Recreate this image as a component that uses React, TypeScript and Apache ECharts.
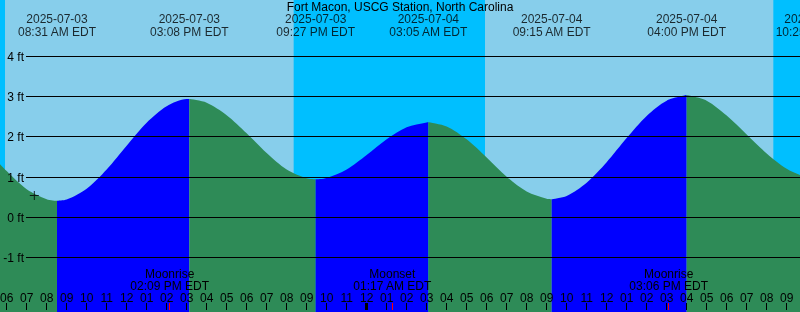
import React, { useEffect, useRef } from 'react';
import * as echarts from 'echarts';

const TITLE = 'Fort Macon, USCG Station, North Carolina';
const FONT = '"Liberation Sans", Arial, sans-serif';

// x values are hours since 2025-07-03 00:00 EDT
const X_MIN = 5 + 2 / 3;
const X_MAX = 45 + 2 / 3;
const Y_MIN = -2.356;
const Y_MAX = 5.406;

// hourly predicted water level (ft)
const tideHours = [5, 6, 7, 8, 9, 10, 11, 12, 13, 14, 15, 16, 17, 18, 19, 20, 21, 22, 23, 24, 25, 26, 27, 28, 29, 30, 31, 32, 33, 34, 35, 36, 37, 38, 39, 41, 42, 43, 44, 45, 46];
const tideFeet = [1.68, 1.15, 0.70, 0.45, 0.44, 0.71, 1.19, 1.78, 2.35, 2.76, 2.94, 2.85, 2.54, 2.09, 1.60, 1.19, 0.97, 0.98, 1.19, 1.55, 1.94, 2.24, 2.36, 2.26, 1.94, 1.49, 1.01, 0.64, 0.46, 0.53, 0.86, 1.37, 1.97, 2.52, 2.90, 2.90, 2.53, 2.06, 1.59, 1.21, 0.99];

// high / low tides
const extremeHours = [8.517, 15.133, 21.45, 27.083, 33.25, 40.0, 46.417];
const extremeFeet = [0.41, 2.94, 0.945, 2.365, 0.45, 3.04, 0.94];
const extremeDates = ['2025-07-03', '2025-07-03', '2025-07-03', '2025-07-04', '2025-07-04', '2025-07-04', '2025-07-04'];
const extremeTimes = ['08:31 AM EDT', '03:08 PM EDT', '09:27 PM EDT', '03:05 AM EDT', '09:15 AM EDT', '04:00 PM EDT', '10:25 PM EDT'];

// hour ticks
const hourTicks = [6, 7, 8, 9, 10, 11, 12, 13, 14, 15, 16, 17, 18, 19, 20, 21, 22, 23, 24, 25, 26, 27, 28, 29, 30, 31, 32, 33, 34, 35, 36, 37, 38, 39, 40, 41, 42, 43, 44, 45];
const midnightTicks = [24];

// moon events
const moonHours = [14.15, 25.283, 39.1];
const moonEvents = ['Moonrise', 'Moonset', 'Moonrise'];
const moonTimes = ['02:09 PM EDT', '01:17 AM EDT', '03:06 PM EDT'];

// night (sunset -> sunrise)
const nightStart = [0, 20.35, 44.333];
const nightEnd = [5.917, 29.917, 48];

const feetLevels = [-1, 0, 1, 2, 3, 4];

const nowHour = [7.383];
const nowFeet = [0.54];

function buildOption() {
  const points = tideHours
    .map((t, i) => [t, tideFeet[i]])
    .concat(extremeHours.map((t, i) => [t, extremeFeet[i]]))
    .sort((a, b) => a[0] - b[0]);
  const bounds = [points[0][0], ...extremeHours];
  const segSeries: any[] = [];
  for (let i = 0; i < bounds.length - 1; i++) {
    const seg = points.filter((p) => p[0] >= bounds[i] && p[0] <= bounds[i + 1]);
    if (seg.length < 2) continue;
    const rising = seg[seg.length - 1][1] > seg[0][1];
    segSeries.push({
      type: 'line',
      xAxisIndex: 0,
      yAxisIndex: 0,
      data: seg,
      smooth: 0.3,
      showSymbol: false,
      symbol: 'none',
      silent: true,
      z: 2,
      lineStyle: { width: 0, opacity: 0 },
      areaStyle: { color: rising ? '#0000FF' : '#2E8B57', opacity: 1, origin: 'start' },
    });
  }

  const baseX = {
    type: 'value',
    min: X_MIN,
    max: X_MAX,
    gridIndex: 0,
    position: 'bottom',
    offset: -2,
    z: 10,
    axisLine: { show: false, onZero: false },
    splitLine: { show: false },
  };

  const hourFmt = (v: number) => {
    const h = ((v % 12) + 12) % 12 || 12;
    return String(h).padStart(2, '0');
  };

  return {
    animation: false,
    textStyle: { fontFamily: FONT },
    title: {
      text: TITLE,
      left: 'center',
      top: 1,
      padding: 0,
      textStyle: { fontSize: 12, fontWeight: 'normal', color: '#000', fontFamily: FONT },
    },
    grid: [
      { left: 0, right: 0, top: 0, bottom: 0, show: true, backgroundColor: '#87CEEB', borderWidth: 0, containLabel: false, outerBoundsMode: 'none' },
      { left: 26, right: 0, top: 0, bottom: 0, containLabel: false, outerBoundsMode: 'none' },
    ],
    xAxis: [
      {
        ...baseX,
        axisTick: { show: true, inside: true, length: 7, customValues: hourTicks, lineStyle: { color: '#000', width: 1 } },
        axisLabel: { show: true, inside: true, margin: 6, customValues: hourTicks, formatter: hourFmt, fontSize: 12, color: '#000', fontFamily: FONT },
      },
      {
        ...baseX,
        axisTick: { show: true, inside: true, length: 7, customValues: midnightTicks, lineStyle: { color: '#000', width: 3 } },
        axisLabel: { show: false },
      },
      {
        ...baseX,
        axisTick: { show: true, inside: true, length: 7, customValues: moonHours, lineStyle: { color: '#FF0000', width: 1 } },
        axisLabel: {
          show: true,
          inside: true,
          margin: 18,
          customValues: moonHours,
          formatter: (v: number) => {
            let i = 0;
            let best = Infinity;
            moonHours.forEach((m, k) => {
              if (Math.abs(m - v) < best) { best = Math.abs(m - v); i = k; }
            });
            return moonEvents[i] + '\n' + moonTimes[i];
          },
          lineHeight: 12,
          fontSize: 12,
          color: '#000',
          fontFamily: FONT,
        },
      },
      { type: 'value', gridIndex: 1, min: X_MIN, max: X_MAX, show: false, axisLine: { onZero: false } },
    ],
    yAxis: [
      { type: 'value', gridIndex: 0, min: Y_MIN, max: Y_MAX, show: false, axisLine: { onZero: false } },
      { type: 'value', gridIndex: 1, min: Y_MIN, max: Y_MAX, show: false, axisLine: { onZero: false } },
    ],
    series: [
      {
        type: 'custom',
        xAxisIndex: 0,
        yAxisIndex: 0,
        data: nightStart.map((s, i) => [s, nightEnd[i]]),
        z: 1,
        silent: true,
        clip: true,
        renderItem: (params: any, api: any) => {
          const a = api.coord([api.value(0), Y_MAX]);
          const b = api.coord([api.value(1), Y_MIN]);
          return {
            type: 'rect',
            shape: { x: a[0], y: a[1], width: b[0] - a[0], height: b[1] - a[1] },
            style: { fill: '#00BFFF' },
          };
        },
      },
      ...segSeries,
      {
        type: 'custom',
        xAxisIndex: 3,
        yAxisIndex: 1,
        data: feetLevels.map((v) => [X_MIN, v]),
        z: 8,
        silent: true,
        clip: false,
        renderItem: (params: any, api: any) => {
          const cs = params.coordSys;
          const y = Math.floor(api.coord([api.value(0), api.value(1)])[1]) + 0.5;
          return {
            type: 'group',
            children: [
              { type: 'line', shape: { x1: cs.x, y1: y, x2: cs.x + cs.width, y2: y }, style: { stroke: '#000', lineWidth: 1 } },
              {
                type: 'text',
                x: cs.x - 2,
                y: y,
                style: { text: api.value(1) + ' ft', align: 'right', verticalAlign: 'middle', fill: '#000', fontSize: 12, fontFamily: FONT },
              },
            ],
          };
        },
      },
      {
        type: 'scatter',
        xAxisIndex: 0,
        yAxisIndex: 0,
        data: extremeHours.map((t) => [t, Y_MAX]),
        symbolSize: 0,
        clip: false,
        silent: true,
        z: 9,
        label: {
          show: true,
          position: 'bottom',
          distance: 13,
          formatter: (p: any) => extremeDates[p.dataIndex] + '\n' + extremeTimes[p.dataIndex],
          fontSize: 12,
          lineHeight: 12.5,
          color: '#000',
          fontFamily: FONT,
          align: 'center',
        },
      },
      {
        type: 'scatter',
        xAxisIndex: 0,
        yAxisIndex: 0,
        data: nowHour.map((t, i) => [t, nowFeet[i]]),
        symbol: 'path://M0,4L9,4L9,5L0,5Z M4,0L5,0L5,9L4,9Z',
        symbolSize: 9,
        itemStyle: { color: '#000' },
        silent: true,
        z: 9,
      },
    ],
  };
}

export default function App() {
  const ref = useRef<HTMLDivElement>(null);
  useEffect(() => {
    if (!ref.current) return;
    const chart = echarts.init(ref.current, null, { renderer: 'svg' });
    chart.setOption(buildOption() as any);
    return () => chart.dispose();
  }, []);
  return <div ref={ref} style={{ position: 'fixed', left: 0, top: 0, width: 800, height: 312 }} />;
}
